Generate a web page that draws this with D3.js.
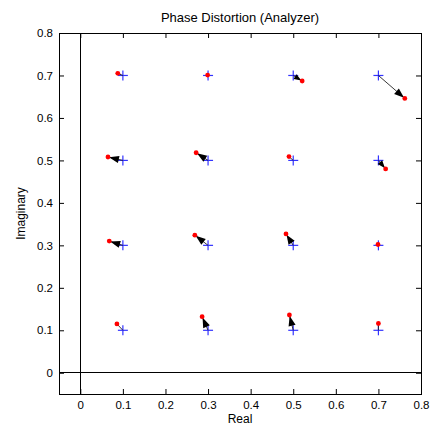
<!DOCTYPE html>
<html><head><meta charset="utf-8">
<script src="https://cdn.jsdelivr.net/npm/d3@7"></script>
<style>body{margin:0;background:#fff}svg text{font-family:"Liberation Sans",Arial,sans-serif;fill:#000}</style>
</head><body><svg id="c" width="432" height="435"></svg>
<script>
const idealX = [0.1,0.3,0.5,0.7, 0.1,0.3,0.5,0.7, 0.1,0.3,0.5,0.7, 0.1,0.3,0.5,0.7];
const idealY = [0.7,0.7,0.7,0.7, 0.5,0.5,0.5,0.5, 0.3,0.3,0.3,0.3, 0.1,0.1,0.1,0.1];
const measX  = [0.088,0.299,0.521,0.762, 0.065,0.272,0.490,0.717, 0.068,0.269,0.483,0.699, 0.086,0.286,0.491,0.700];
const measY  = [0.705,0.701,0.687,0.646, 0.508,0.518,0.509,0.480, 0.310,0.324,0.327,0.302, 0.115,0.132,0.136,0.116];
const xTicks = [0,0.1,0.2,0.3,0.4,0.5,0.6,0.7,0.8];
const yTicks = [0,0.1,0.2,0.3,0.4,0.5,0.6,0.7,0.8];
const xDomain = [-0.05,0.8], yDomain = [-0.05,0.8];

const svg = d3.select("#c");
const L=59,R=421,T=33,B=394;
const x = d3.scaleLinear().domain(xDomain).range([L,R]);
const y = d3.scaleLinear().domain(yDomain).range([B,T]);
const fmt = d => d===0 ? "0" : d3.format(".1f")(d);

// axes (MATLAB-style inward ticks on all sides)
svg.append("g").attr("transform",`translate(0,${B})`)
  .call(d3.axisBottom(x).tickValues(xTicks).tickFormat(fmt).tickSizeInner(-5).tickSizeOuter(0).tickPadding(7))
  .call(g=>{g.select(".domain").remove();g.selectAll("text").attr("font-size",11.5);});
svg.append("g").attr("transform",`translate(0,${T})`)
  .call(d3.axisTop(x).tickValues(xTicks).tickFormat("").tickSizeInner(-5).tickSizeOuter(0))
  .call(g=>g.select(".domain").remove());
svg.append("g").attr("transform",`translate(${L},0)`)
  .call(d3.axisLeft(y).tickValues(yTicks).tickFormat(fmt).tickSizeInner(-5).tickSizeOuter(0).tickPadding(6))
  .call(g=>{g.select(".domain").remove();g.selectAll("text").attr("font-size",11.5);});
svg.append("g").attr("transform",`translate(${R},0)`)
  .call(d3.axisRight(y).tickValues(yTicks).tickFormat("").tickSizeInner(-5).tickSizeOuter(0))
  .call(g=>g.select(".domain").remove());
svg.append("rect").attr("x",L).attr("y",T).attr("width",R-L).attr("height",B-T)
  .attr("fill","none").attr("stroke","#000").attr("stroke-width",1).attr("shape-rendering","crispEdges");

// zero lines
svg.append("line").attr("x1",x(0)).attr("x2",x(0)).attr("y1",T).attr("y2",B).attr("stroke","#000").attr("shape-rendering","crispEdges");
svg.append("line").attr("x1",L).attr("x2",R).attr("y1",y(0)).attr("y2",y(0)).attr("stroke","#000").attr("shape-rendering","crispEdges");

// labels
svg.append("text").attr("x",(L+R)/2).attr("y",22).attr("text-anchor","middle").attr("font-size",13).text("Phase Distortion (Analyzer)");
svg.append("text").attr("x",(L+R)/2).attr("y",423).attr("text-anchor","middle").attr("font-size",12).text("Real");
svg.append("text").attr("transform",`translate(25,${(T+B)/2}) rotate(-90)`).attr("text-anchor","middle").attr("font-size",12).text("Imaginary");

const pts = idealX.map((d,i)=>({x0:d,y0:idealY[i],x1:measX[i],y1:measY[i]}));

// blue crosses
const cs=5;
const cross = svg.append("g").attr("stroke","#3333ff").attr("stroke-width",1.2);
pts.forEach(p=>{
  const cx=x(p.x0), cy=y(p.y0);
  cross.append("line").attr("x1",cx-cs).attr("x2",cx+cs).attr("y1",cy).attr("y2",cy);
  cross.append("line").attr("x1",cx).attr("x2",cx).attr("y1",cy-cs).attr("y2",cy+cs);
});

// arrows
const ag = svg.append("g");
pts.forEach(p=>{
  const ax=x(p.x0), ay=y(p.y0), bx=x(p.x1), by=y(p.y1);
  const dx=bx-ax, dy=by-ay, len=Math.hypot(dx,dy);
  if(len<0.5) return;
  const ux=dx/len, uy=dy/len;
  ag.append("line").attr("x1",ax).attr("y1",ay).attr("x2",bx).attr("y2",by).attr("stroke","#222").attr("stroke-width",0.9);
  if(len>9){
    const hl=Math.min(10,len*0.7), hw=Math.min(3.6,hl*0.38);
    const tx=bx-ux*1.0, ty=by-uy*1.0;
    const bxh=tx-ux*hl, byh=ty-uy*hl;
    ag.append("path").attr("d",`M${tx},${ty}L${bxh-uy*hw},${byh+ux*hw}L${bxh+uy*hw},${byh-ux*hw}Z`).attr("fill","#000");
  }
});

// red dots
svg.append("g").selectAll("circle").data(pts).join("circle")
  .attr("cx",d=>x(d.x1)).attr("cy",d=>y(d.y1)).attr("r",2.4).attr("fill","#ff0000");
</script></body></html>
